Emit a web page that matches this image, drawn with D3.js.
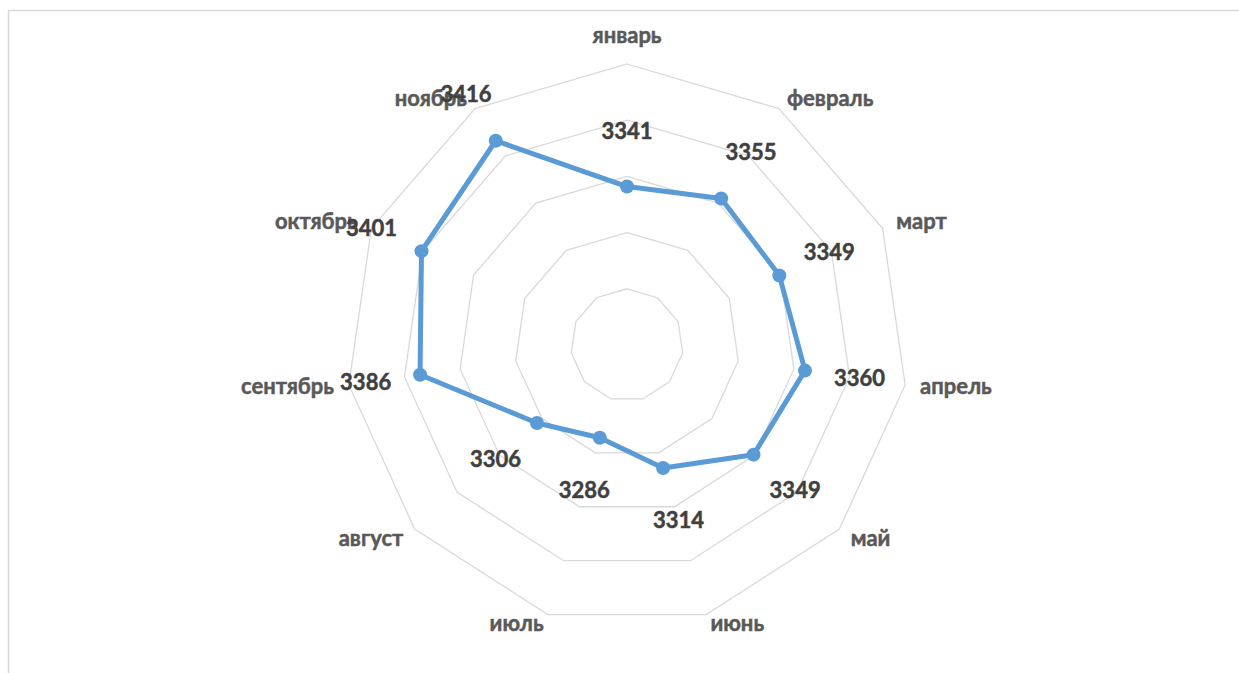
<!DOCTYPE html>
<html>
<head>
<meta charset="utf-8">
<script src="https://cdn.jsdelivr.net/npm/d3@7"></script>
<style>
  body { margin: 0; background: #fff; }
  text { font-family: Lato, "Open Sans", sans-serif; font-weight: bold; stroke-width: 0.5px; }
</style>
</head>
<body>
<svg width="1239" height="673"></svg>
<script>
let svg = d3.select("svg");

// données
let mois = ["январь", "февраль", "март", "апрель", "май", "июнь", "июль", "август", "сентябрь", "октябрь", "ноябрь"];
let valeurs = [3341, 3355, 3349, 3360, 3349, 3314, 3286, 3306, 3386, 3401, 3416];
let graduations = [3250, 3300, 3350, 3400, 3450];

let cx = 627, cy = 345;

// cadre
svg.append("rect")
    .attr("x", 8.5).attr("y", 10.5)
    .attr("width", 1300).attr("height", 700)
    .style("fill", "none")
    .style("stroke", "#d9d9d9")
    .style("stroke-width", 1.5);

let g = svg.append("g").attr("transform", `translate(${cx},${cy})`);

let angle = d3.scaleLinear()
    .domain([0, mois.length])
    .range([0, 2 * Math.PI]);
let rayon = d3.scaleLinear()
    .domain([3200, 3450])
    .range([0, 281]);

function px(i, r) { return r * Math.sin(angle(i)); }
function py(i, r) { return -r * Math.cos(angle(i)); }

// anneaux de la grille
let anneau = d3.lineRadial()
    .angle((d, i) => angle(i))
    .radius(d => d)
    .curve(d3.curveLinearClosed);

g.selectAll("path.grille")
    .data(graduations)
    .enter()
    .append("path")
    .attr("class", "grille")
    .attr("d", v => anneau(mois.map(() => rayon(v))))
    .style("fill", "none")
    .style("stroke", "#d9d9d9")
    .style("stroke-width", 1.3);

// étiquettes des mois
g.selectAll("text.mois")
    .data(mois)
    .enter()
    .append("text")
    .attr("class", "mois")
    .attr("x", (d, i) => px(i, 296))
    .attr("y", (d, i) => py(i, 296) + (i == 0 ? -13 : 0) + (Math.cos(angle(i)) < -0.9 ? -5 : 0) + (i == 1 || i == 10 ? 3 : 0))
    .attr("dy", "0.32em")
    .attr("text-anchor", (d, i) => {
        let s = Math.sin(angle(i));
        return Math.abs(s) < 0.1 ? "middle" : (s > 0 ? "start" : "end");
    })
    .style("font-size", "22px")
    .style("fill", "#595959")
    .style("stroke", "#595959")
    .text(d => d);

// la série
let ligne = d3.lineRadial()
    .angle((d, i) => angle(i))
    .radius(d => rayon(d))
    .curve(d3.curveLinearClosed);

g.append("path")
    .attr("d", ligne(valeurs))
    .style("fill", "none")
    .style("stroke", "#5b9bd5")
    .style("stroke-width", 5)
    .style("stroke-linejoin", "round");

g.selectAll("circle")
    .data(valeurs)
    .enter()
    .append("circle")
    .attr("cx", (d, i) => px(i, rayon(d)))
    .attr("cy", (d, i) => py(i, rayon(d)))
    .attr("r", 7)
    .style("fill", "#5b9bd5");

// étiquettes des valeurs
g.selectAll("text.valeur")
    .data(valeurs)
    .enter()
    .append("text")
    .attr("class", "valeur")
    .attr("x", (d, i) => px(i, rayon(d) + 55))
    .attr("y", (d, i) => py(i, rayon(d) + 55))
    .attr("dy", "0.35em")
    .attr("text-anchor", "middle")
    .style("font-size", "22px")
    .style("fill", "#404040")
    .style("stroke", "#404040")
    .text(d => d);
</script>
</body>
</html>
